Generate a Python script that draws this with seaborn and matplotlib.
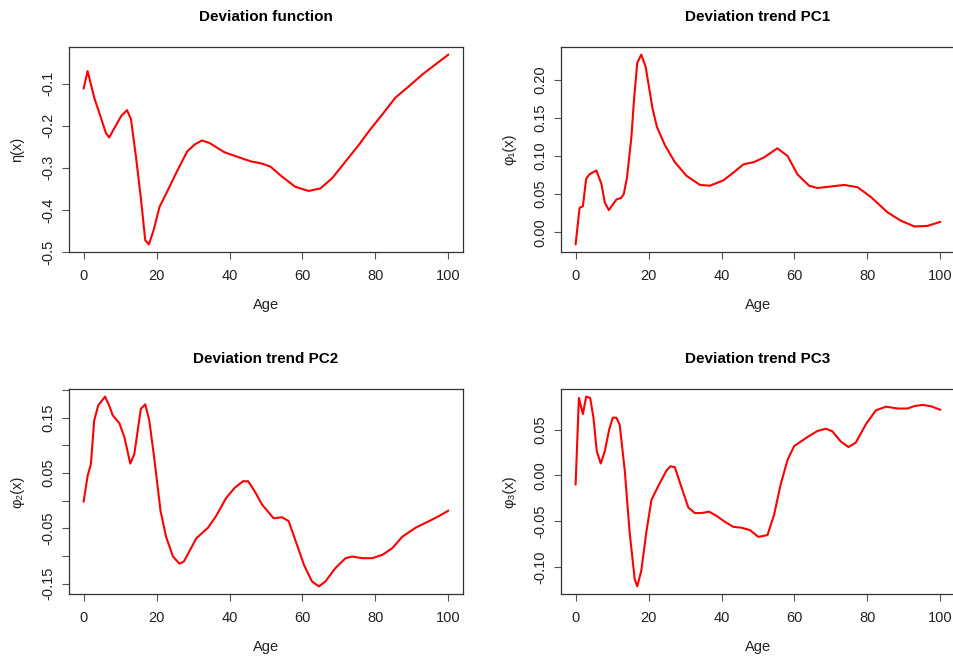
import matplotlib
matplotlib.use("Agg")
import matplotlib.pyplot as plt
import seaborn as sns
import numpy as np

# Deviation function eta(x) over age
eta_age = [0, 1.1, 2.9, 4.9, 6.1, 7.0, 10.3, 11.9, 13.0, 14.4, 15.7, 16.9, 17.9,
           19.2, 20.8, 22.2, 25.8, 28.4, 30.4, 32.4, 34.5, 38.6, 43.2, 46.0, 48.9,
           51.2, 54.4, 58.0, 61.7, 64.9, 68.1, 71.8, 75.5, 78.2, 81.9, 85.5, 89.2,
           92.9, 96.5, 100]
eta_val = [-0.112, -0.070, -0.133, -0.185, -0.217, -0.228, -0.177, -0.163, -0.185,
           -0.277, -0.372, -0.472, -0.482, -0.448, -0.393, -0.369, -0.305, -0.261,
           -0.245, -0.235, -0.241, -0.263, -0.277, -0.285, -0.290, -0.297, -0.321,
           -0.345, -0.355, -0.349, -0.325, -0.285, -0.245, -0.213, -0.173, -0.133,
           -0.106, -0.078, -0.054, -0.031]

# First principal component of the deviation trend
pc1_age = [0, 1.1, 2.0, 2.9, 3.8, 5.7, 7.1, 8.0, 9.1, 11.2, 12.5, 13.2, 14.1, 15.3,
           16.0, 16.9, 18.0, 19.2, 21.1, 22.3, 24.5, 27.2, 30.4, 34.1, 36.8, 40.5,
           43.2, 46.0, 48.9, 51.6, 55.3, 58.1, 60.8, 64.0, 66.3, 70.0, 73.6, 77.3,
           81.0, 85.5, 89.2, 92.9, 96.5, 100]
pc1_val = [-0.016, 0.032, 0.034, 0.070, 0.076, 0.081, 0.063, 0.039, 0.029, 0.043,
           0.045, 0.050, 0.072, 0.125, 0.173, 0.222, 0.233, 0.217, 0.162, 0.138,
           0.114, 0.092, 0.074, 0.062, 0.061, 0.068, 0.078, 0.089, 0.092, 0.098,
           0.110, 0.100, 0.076, 0.061, 0.058, 0.060, 0.062, 0.059, 0.046, 0.026,
           0.015, 0.0075, 0.0083, 0.0136]

# Second principal component
pc2_age = [0, 1.1, 2.0, 2.9, 4.0, 5.9, 7.0, 8.0, 9.8, 11.2, 12.8, 13.9, 15.7, 16.9,
           18.0, 19.4, 21.1, 22.6, 24.5, 26.3, 27.5, 30.9, 34.1, 36.3, 39.1, 41.4,
           43.7, 45.1, 46.9, 48.9, 52.1, 54.4, 56.2, 58.5, 60.4, 62.6, 64.5, 66.3,
           69.0, 71.8, 73.6, 76.4, 79.1, 81.9, 84.6, 87.4, 91.0, 94.7, 97.4, 100]
pc2_val = [-0.002, 0.0445, 0.066, 0.1445, 0.172, 0.188, 0.172, 0.154, 0.140, 0.114,
           0.067, 0.084, 0.166, 0.174, 0.145, 0.075, -0.019, -0.065, -0.101, -0.114,
           -0.110, -0.068, -0.049, -0.028, 0.005, 0.023, 0.035, 0.035, 0.017, -0.007,
           -0.032, -0.030, -0.037, -0.080, -0.116, -0.146, -0.155, -0.146, -0.122,
           -0.104, -0.101, -0.104, -0.104, -0.098, -0.086, -0.065, -0.049, -0.037,
           -0.028, -0.018]

# Third principal component
pc3_age = [0, 0.9, 2.0, 2.9, 4.0, 4.9, 5.8, 6.9, 8.0, 9.2, 10.2, 11.2, 12.1, 13.5,
           14.8, 16.2, 16.9, 18.0, 19.4, 20.8, 22.6, 24.9, 26.0, 27.2, 29.1, 30.9,
           32.7, 34.5, 36.6, 38.6, 40.9, 43.2, 45.5, 47.8, 50.1, 52.6, 54.4, 56.2,
           58.1, 59.9, 63.6, 66.3, 68.6, 70.4, 72.7, 74.8, 76.8, 79.6, 82.3, 85.1,
           88.3, 91.0, 92.9, 95.2, 97.5, 100]
pc3_val = [-0.010, 0.0845, 0.067, 0.086, 0.0845, 0.063, 0.0265, 0.013, 0.0265, 0.050,
           0.063, 0.063, 0.055, 0.0045, -0.0615, -0.113, -0.121, -0.104, -0.0615,
           -0.0266, -0.012, 0.0053, 0.010, 0.009, -0.0138, -0.035, -0.041, -0.041,
           -0.0395, -0.044, -0.0505, -0.056, -0.057, -0.0596, -0.067, -0.065, -0.043,
           -0.010, 0.017, 0.032, 0.042, 0.0485, 0.051, 0.048, 0.037, 0.031, 0.0358,
           0.056, 0.071, 0.075, 0.073, 0.073, 0.0757, 0.077, 0.0753, 0.0716]

age_ticks = [0, 20, 40, 60, 80, 100]

panels = [
    dict(age=eta_age, val=eta_val, title="Deviation function", ylabel="η(x)",
         yticks=[-0.5, -0.4, -0.3, -0.2, -0.1],
         ylabels=["-0.5", "-0.4", "-0.3", "-0.2", "-0.1"]),
    dict(age=pc1_age, val=pc1_val, title="Deviation trend PC1", ylabel="φ₁(x)",
         yticks=[0.0, 0.05, 0.10, 0.15, 0.20],
         ylabels=["0.00", "0.05", "0.10", "0.15", "0.20"]),
    dict(age=pc2_age, val=pc2_val, title="Deviation trend PC2", ylabel="φ₂(x)",
         yticks=[-0.15, -0.10, -0.05, 0.0, 0.05, 0.10, 0.15, 0.20],
         ylabels=["-0.15", "", "-0.05", "", "0.05", "", "0.15", ""]),
    dict(age=pc3_age, val=pc3_val, title="Deviation trend PC3", ylabel="φ₃(x)",
         yticks=[-0.10, -0.05, 0.0, 0.05],
         ylabels=["-0.10", "-0.05", "0.00", "0.05"]),
]

sns.set_style("ticks")
plt.rcParams["font.family"] = ["Liberation Sans", "DejaVu Sans"]

fig = plt.figure(figsize=(9.54, 6.57), dpi=100)
W, H = 954, 657
boxes = [(69, 47), (561, 47), (69, 389), (561, 389)]
bw, bh = 394, 205

for (x0, y0), p in zip(boxes, panels):
    ax = fig.add_axes([x0 / W, 1 - (y0 + bh) / H, bw / W, bh / H])
    sns.lineplot(x=p["age"], y=p["val"], ax=ax, color="#FF0000", linewidth=1.5,
                 estimator=None, sort=False)
    ax.margins(x=0.04, y=0.04)
    ax.set_xticks(age_ticks)
    ax.set_xticklabels([str(t) for t in age_ticks])
    ax.set_yticks(p["yticks"])
    ax.set_yticklabels(p["ylabels"])
    for s in ax.spines.values():
        s.set_visible(True)
        s.set_color("#333333")
        s.set_linewidth(0.9)
    ax.tick_params(axis="both", direction="out", length=5, width=0.8,
                   color="#555555", labelsize=10.5, labelcolor="#222222")
    ax.tick_params(axis="x", pad=7.5)
    ax.tick_params(axis="y", pad=5.0)
    for lab in ax.get_yticklabels():
        lab.set_rotation(90)
        lab.set_va("center")
    ax.set_xlabel("Age", fontsize=10.5, color="#222222")
    ax.xaxis.set_label_coords(0.5, -46 / bh)
    ax.set_ylabel(p["ylabel"], fontsize=10.5, color="#222222")
    ax.yaxis.set_label_coords(-45 / bw, 0.5)
    ax.text(0.5, 1 + 30 / bh, p["title"], transform=ax.transAxes, ha="center",
            va="center", fontsize=11, fontweight="bold", color="black")

fig.savefig("out.png", dpi=100)
